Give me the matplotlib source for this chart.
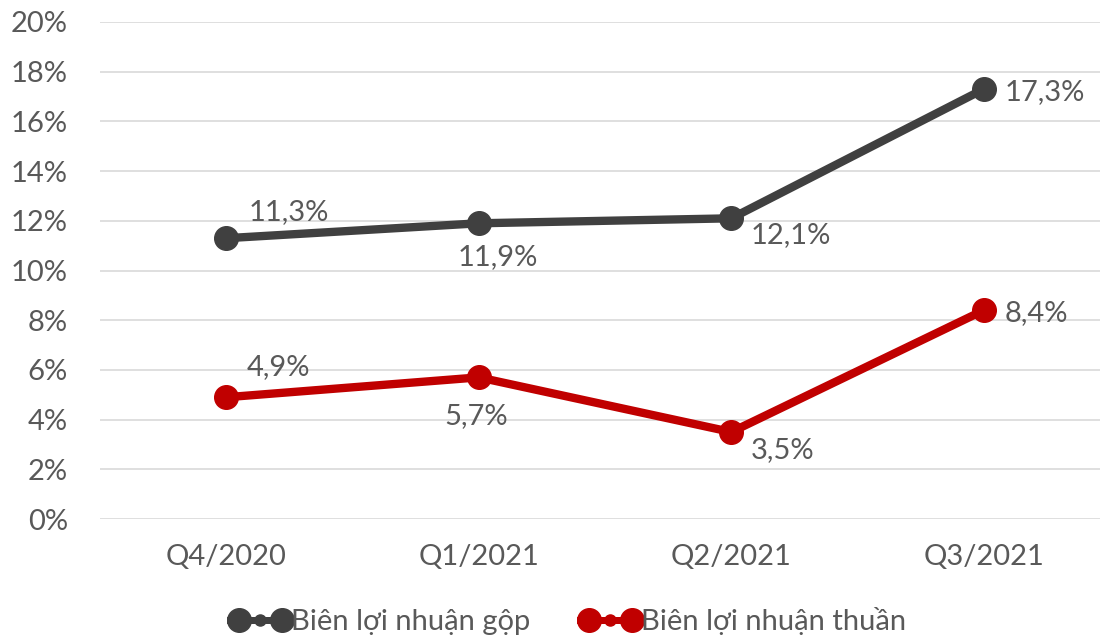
import matplotlib.pyplot as plt
from matplotlib.lines import Line2D
from matplotlib.legend_handler import HandlerLine2D, HandlerTuple
from matplotlib.ticker import FuncFormatter

plt.rcParams['font.family'] = ['Lato', 'DejaVu Sans']

quarters = ['Q4/2020', 'Q1/2021', 'Q2/2021', 'Q3/2021']
gross_margin = [11.3, 11.9, 12.1, 17.3]
net_margin = [4.9, 5.7, 3.5, 8.4]
gross_name = 'Biên lợi nhuận gộp'
net_name = 'Biên lợi nhuận thuần'

GRAY = '#404040'
RED = '#C00000'
TXT = '#595959'
FS = 21

fig = plt.figure(figsize=(11, 6.4), dpi=100)
ax = fig.add_axes([100 / 1100, 1 - 519 / 640, 1000 / 1100, 497 / 640])

x = range(len(quarters))
ax.plot(x, gross_margin, color=GRAY, lw=6, marker='o', ms=17, zorder=3)
ax.plot(x, net_margin, color=RED, lw=6, marker='o', ms=17, zorder=3)

# label offsets in points (dx, dy), left-aligned text
gross_off = [(16, 19), (-15, -24), (14, -12), (15, -2)]
net_off = [(15, 22), (-25, -28), (14, -13), (15, -2)]
for i, v in enumerate(gross_margin):
    ax.annotate(f'{v:.1f}%'.replace('.', ','), (i, v), xytext=gross_off[i],
                textcoords='offset points', fontsize=FS, color=TXT,
                ha='left', va='center')
for i, v in enumerate(net_margin):
    ax.annotate(f'{v:.1f}%'.replace('.', ','), (i, v), xytext=net_off[i],
                textcoords='offset points', fontsize=FS, color=TXT,
                ha='left', va='center')

ax.set_xlim(-0.5, 3.46)
ax.set_ylim(0, 20)
ax.set_yticks(range(0, 21, 2))
ax.yaxis.set_major_formatter(FuncFormatter(lambda v, p: f'{v:.0f}%'))
ax.set_xticks(list(x))
ax.set_xticklabels(quarters)
ax.tick_params(axis='both', length=0, labelsize=FS, labelcolor=TXT)
ax.tick_params(axis='x', pad=18)
ax.tick_params(axis='y', pad=23)
ax.grid(axis='y', color='#D9D9D9', lw=1.2)
ax.set_axisbelow(True)
for s in ax.spines.values():
    s.set_visible(False)

handles = []
hmap = {}
for c in (GRAY, RED):
    big = Line2D([], [], color=c, lw=5, marker='o', ms=17)
    small = Line2D([], [], color=c, lw=5, marker='o', ms=8)
    hmap[big] = HandlerLine2D(numpoints=2)
    hmap[small] = HandlerLine2D(numpoints=1)
    handles.append((big, small))
hmap[tuple] = HandlerTuple(ndivide=1)
leg = fig.legend(handles, [gross_name, net_name], loc='center',
                 bbox_to_anchor=(568 / 1100, 1 - 621 / 640), ncol=2,
                 frameon=False, fontsize=FS, handlelength=2.1,
                 handletextpad=0.0, columnspacing=1.7, handler_map=hmap)
for t in leg.get_texts():
    t.set_color(TXT)

fig.savefig('out.png', dpi=100)
